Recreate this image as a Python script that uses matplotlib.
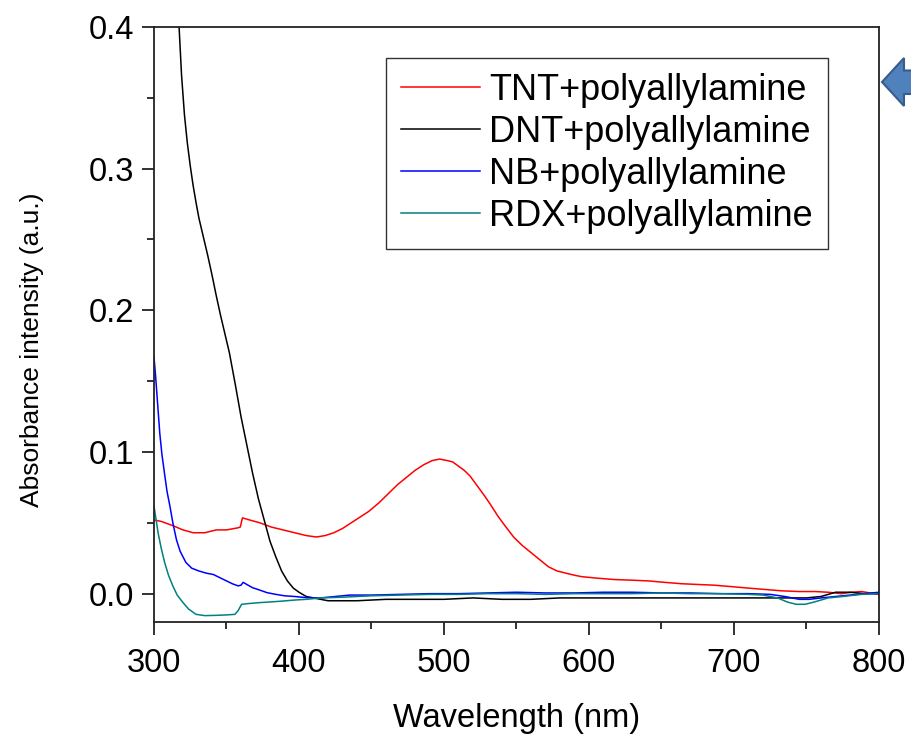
import numpy as np
import matplotlib.pyplot as plt
from matplotlib.patches import Polygon
from matplotlib.ticker import MultipleLocator


# ============================================================
# 1. Data: UV-vis absorbance of nitro-explosives + polyallylamine
# ============================================================

tnt_wl = [300, 305, 313, 320, 327, 335, 343, 350, 358, 359.5, 361, 366, 373,
          381, 389, 397, 405, 412, 418, 424, 430, 436, 442, 448, 455, 462,
          468, 474, 480, 486, 492, 497, 502, 506, 510, 514, 518, 523, 528,
          532, 537, 542, 548, 554, 560, 566, 572, 578, 584, 590, 595, 605,
          617, 630, 641, 652, 664, 675, 686, 698, 709, 721, 733, 745, 756,
          765, 774, 781, 788, 794, 800]
tnt_abs = [0.052, 0.051, 0.048, 0.045, 0.043, 0.043, 0.045, 0.045, 0.0465,
           0.047, 0.0535, 0.052, 0.050, 0.047, 0.045, 0.043, 0.041, 0.040,
           0.041, 0.043, 0.046, 0.050, 0.054, 0.058, 0.064, 0.071, 0.077,
           0.082, 0.087, 0.091, 0.094, 0.095, 0.094, 0.093, 0.090, 0.087,
           0.083, 0.076, 0.069, 0.063, 0.055, 0.048, 0.040, 0.034, 0.029,
           0.024, 0.019, 0.016, 0.0145, 0.013, 0.012, 0.011, 0.010, 0.0095,
           0.009, 0.008, 0.007, 0.0065, 0.006, 0.005, 0.004, 0.003, 0.002,
           0.0015, 0.0015, 0.001, 0.0, 0.001, 0.0015, 0.0005, -0.0005]

dnt_wl = [316, 317.3, 319, 321, 323, 325, 327, 329, 331, 334, 337, 340, 343,
          346, 349, 352, 356, 360, 364, 368, 372, 376, 380, 384, 388, 392,
          396, 400, 405, 410, 420, 440, 460, 480, 500, 520, 540, 560, 580,
          600, 620, 640, 660, 680, 700, 720, 740, 750, 760, 770, 780, 790,
          800]
dnt_abs = [0.42, 0.40, 0.366, 0.338, 0.318, 0.302, 0.288, 0.276, 0.265,
           0.252, 0.239, 0.225, 0.210, 0.196, 0.183, 0.170, 0.148, 0.125,
           0.105, 0.085, 0.067, 0.052, 0.037, 0.026, 0.016, 0.009, 0.004,
           0.001, -0.002, -0.003, -0.005, -0.005, -0.004, -0.004, -0.004,
           -0.003, -0.004, -0.004, -0.003, -0.003, -0.003, -0.003, -0.003,
           -0.003, -0.003, -0.003, -0.003, -0.003, -0.002, 0.001, 0.001, 0.0,
           0.0]

nb_wl = [300, 301, 302, 304, 305.5, 307.5, 309, 311, 313, 315.5, 318, 322,
         326, 331, 336, 341, 346, 350, 354, 358, 360, 361.5, 364, 368, 373,
         378, 384, 390, 397, 405, 415, 425, 435, 450, 470, 490, 510, 530,
         550, 570, 590, 610, 630, 650, 670, 690, 710, 725, 735, 745, 752,
         760, 770, 780, 790, 800]
nb_abs = [0.167, 0.155, 0.141, 0.113, 0.098, 0.083, 0.072, 0.0617, 0.050,
          0.038, 0.030, 0.022, 0.018, 0.016, 0.0145, 0.0135, 0.011, 0.009,
          0.007, 0.0055, 0.006, 0.008, 0.0065, 0.0042, 0.0025, 0.0007,
          -0.0005, -0.0015, -0.002, -0.0028, -0.003, -0.002, -0.001, -0.001,
          -0.0005, 0.0, 0.0, 0.0005, 0.001, 0.0005, 0.0005, 0.001, 0.001,
          0.0005, 0.0005, 0.0, 0.0, -0.0005, -0.002, -0.004, -0.004, -0.003,
          -0.002, -0.001, 0.0, 0.001]

rdx_wl = [300, 301.5, 302.8, 305, 307.4, 310, 313, 316, 320, 324, 329, 335,
          343, 350, 355.8, 358, 360.4, 365, 373, 381, 389, 397, 405, 415, 430,
          450, 470, 490, 510, 530, 550, 570, 590, 610, 630, 650, 670, 690,
          710, 720, 730, 737, 743, 749, 755, 765, 775, 788, 800]
rdx_abs = [0.0617, 0.052, 0.043, 0.032, 0.0218, 0.013, 0.0054, -0.001,
           -0.0063, -0.011, -0.0146, -0.0155, -0.0153, -0.015, -0.0146,
           -0.012, -0.0075, -0.007, -0.0063, -0.0058, -0.0052, -0.0045,
           -0.004, -0.003, -0.0025, -0.0015, -0.001, -0.0005, -0.0005, 0.0,
           0.0, -0.0005, 0.0, 0.0, 0.0, 0.0005, 0.0, 0.0, -0.0005, -0.001,
           -0.003, -0.006, -0.0075, -0.0075, -0.006, -0.003, -0.002, -0.0005,
           0.0]

series_labels = ["TNT+polyallylamine", "DNT+polyallylamine",
                 "NB+polyallylamine", "RDX+polyallylamine"]
series_colors = ["#ff0000", "#000000", "#0000ff", "#008080"]

FONT = ["Liberation Sans", "DejaVu Sans"]
FS = 23.5


# ============================================================
# 2. Plot
# ============================================================

def draw_spectra(ax):
    curves = [(tnt_wl, tnt_abs), (dnt_wl, dnt_abs),
              (nb_wl, nb_abs), (rdx_wl, rdx_abs)]
    for (wl, ab), label, color in zip(curves, series_labels, series_colors):
        ax.plot(np.asarray(wl), np.asarray(ab), color=color, lw=1.1,
                label=label)


def style_axes(ax):
    ax.set_xlim(300, 800)
    ax.set_ylim(-0.02, 0.4)
    ax.xaxis.set_major_locator(MultipleLocator(100))
    ax.xaxis.set_minor_locator(MultipleLocator(50))
    ax.yaxis.set_major_locator(MultipleLocator(0.1))
    ax.yaxis.set_minor_locator(MultipleLocator(0.05))
    ax.yaxis.set_major_formatter(plt.FormatStrFormatter("%.1f"))

    for sp in ax.spines.values():
        sp.set_linewidth(1.3)
        sp.set_color("#222222")

    ax.tick_params(which="both", direction="out", top=False, right=False,
                   width=1.3, color="#222222", labelsize=FS)
    ax.tick_params(which="major", length=9)
    ax.tick_params(which="minor", length=5)
    ax.tick_params(axis="x", which="major", pad=10)
    ax.tick_params(axis="y", which="major", pad=5)

    ax.set_xlabel("Wavelength (nm)", fontsize=FS, labelpad=17)
    ax.set_ylabel("Absorbance intensity (a.u.)", fontsize=19)
    ax.yaxis.set_label_coords(-0.152, 0.457)

    leg = ax.legend(loc="upper right", bbox_to_anchor=(0.930, 0.948),
                    borderaxespad=0, fancybox=False, fontsize=26,
                    handlelength=2.2, handletextpad=0.25, labelspacing=0.19,
                    borderpad=0.42)
    leg.get_frame().set_edgecolor("#000000")
    leg.get_frame().set_linewidth(1.0)


def add_pointer(fig):
    # block arrow sitting just right of the plot, pointing at the legend
    W, H = 912, 734
    pts = [(882, 82), (904, 58), (904, 70.5), (916, 70.5),
           (916, 94), (904, 94), (904, 106)]
    pts = [(x / W, 1 - y / H) for x, y in pts]
    arrow = Polygon(pts, closed=True, transform=fig.transFigure,
                    facecolor="#4f81bd", edgecolor="#385d8a", lw=1.5,
                    clip_on=False)
    fig.patches.append(arrow)


def main():
    plt.rcParams["font.family"] = FONT

    fig = plt.figure(figsize=(9.12, 7.34), dpi=100)
    ax = fig.add_axes([154 / 912, 1 - 622 / 734,
                       (879 - 154) / 912, (622 - 27) / 734])

    draw_spectra(ax)
    style_axes(ax)
    add_pointer(fig)

    fig.savefig("out.png", dpi=100)
    plt.close(fig)


if __name__ == "__main__":
    main()
